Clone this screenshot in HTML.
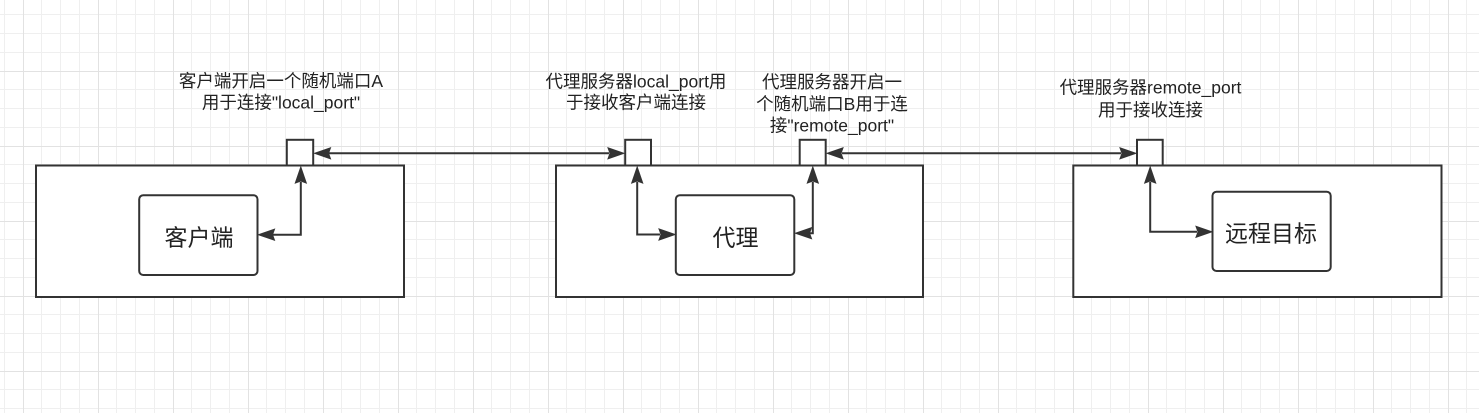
<!DOCTYPE html>
<html><head><meta charset="utf-8">
<style>
html,body{margin:0;padding:0;background:#fff;}
body{width:1479px;height:413px;overflow:hidden;}
svg{display:block;}
text{font-family:"Liberation Sans","Noto Sans CJK SC",sans-serif;fill:#222;}
</style></head>
<body>
<svg width="1479" height="413" viewBox="0 0 1479 413" xmlns="http://www.w3.org/2000/svg">
<rect x="0" y="0" width="1479" height="413" fill="#fff"/>
<g shape-rendering="crispEdges" stroke-width="1" fill="none">
<path stroke="#efefef" d="M4.5 0V413M41.5 0V413M60.5 0V413M79.5 0V413M116.5 0V413M135.5 0V413M154.5 0V413M191.5 0V413M210.5 0V413M229.5 0V413M266.5 0V413M285.5 0V413M304.5 0V413M341.5 0V413M360.5 0V413M379.5 0V413M416.5 0V413M435.5 0V413M454.5 0V413M491.5 0V413M510.5 0V413M529.5 0V413M566.5 0V413M585.5 0V413M604.5 0V413M641.5 0V413M660.5 0V413M679.5 0V413M716.5 0V413M735.5 0V413M754.5 0V413M791.5 0V413M810.5 0V413M829.5 0V413M866.5 0V413M885.5 0V413M904.5 0V413M941.5 0V413M960.5 0V413M979.5 0V413M1016.5 0V413M1035.5 0V413M1054.5 0V413M1091.5 0V413M1110.5 0V413M1129.5 0V413M1166.5 0V413M1185.5 0V413M1204.5 0V413M1241.5 0V413M1260.5 0V413M1279.5 0V413M1316.5 0V413M1335.5 0V413M1354.5 0V413M1391.5 0V413M1410.5 0V413M1429.5 0V413M1466.5 0V413
M0 14.5H1479M0 33.5H1479M0 52.5H1479M0 89.5H1479M0 108.5H1479M0 127.5H1479M0 164.5H1479M0 183.5H1479M0 202.5H1479M0 239.5H1479M0 258.5H1479M0 277.5H1479M0 314.5H1479M0 333.5H1479M0 352.5H1479M0 389.5H1479M0 408.5H1479"/>
<path stroke="#e2e2e2" d="M23.5 0V413M98.5 0V413M173.5 0V413M248.5 0V413M323.5 0V413M398.5 0V413M473.5 0V413M548.5 0V413M623.5 0V413M698.5 0V413M773.5 0V413M848.5 0V413M923.5 0V413M998.5 0V413M1073.5 0V413M1148.5 0V413M1223.5 0V413M1298.5 0V413M1373.5 0V413M1448.5 0V413
M0 71.5H1479M0 146.5H1479M0 221.5H1479M0 296.5H1479M0 371.5H1479"/>
</g>

<g stroke="#333" stroke-width="2" fill="#fff">
  <!-- outer boxes -->
  <rect x="36" y="165.5" width="368" height="131.5"/>
  <rect x="556" y="165.5" width="367" height="131.5"/>
  <rect x="1073.3" y="165.5" width="368.2" height="131.5"/>
  <!-- ports -->
  <rect x="286.8" y="139.8" width="26.4" height="25.7"/>
  <rect x="625.2" y="139.8" width="25.8" height="25.7"/>
  <rect x="799.7" y="139.8" width="26" height="25.7"/>
  <rect x="1137" y="139.8" width="25.7" height="25.7"/>
  <!-- inner boxes -->
  <rect x="139.2" y="195.2" width="118.3" height="79.8" rx="4" ry="4"/>
  <rect x="675.8" y="195.2" width="118.5" height="79.8" rx="4" ry="4"/>
  <rect x="1212.5" y="191.7" width="118.2" height="79.3" rx="4" ry="4"/>
</g>

<g stroke="#333" stroke-width="2" fill="none">
  <path d="M329 153.3H609"/>
  <path d="M842 153.3H1121"/>
  <path d="M300.8 182V234.7H273"/>
  <path d="M637.2 182V234.5H660"/>
  <path d="M812.8 182V233.2H810"/>
  <path d="M1150.2 182V231.8H1197"/>
</g>

<g fill="#333" stroke="#333" stroke-width="1" stroke-linejoin="miter">
  <!-- top horizontal arrows -->
  <polygon points="314.5,153.3 330.5,147.8 328.5,153.3 330.5,158.8"/>
  <polygon points="624,153.3 608,147.8 610,153.3 608,158.8"/>
  <polygon points="827,153.3 843,147.8 841,153.3 843,158.8"/>
  <polygon points="1136,153.3 1120,147.8 1122,153.3 1120,158.8"/>
  <!-- up arrows -->
  <polygon points="300.8,167 295.3,183 300.8,181 306.3,183"/>
  <polygon points="637.2,167 631.7,183 637.2,181 642.7,183"/>
  <polygon points="812.8,167 807.3,183 812.8,181 818.3,183"/>
  <polygon points="1150.2,167 1144.7,183 1150.2,181 1155.7,183"/>
  <!-- inner arrows -->
  <polygon points="258.5,234.7 274.5,229.2 272.5,234.7 274.5,240.2"/>
  <polygon points="675,234.5 659,229 661,234.5 659,240"/>
  <polygon points="795.5,233.2 811.5,227.7 809.5,233.2 811.5,238.7"/>
  <polygon points="1212,231.8 1196,226.3 1198,231.8 1196,237.3"/>
</g>

<g font-size="17.5" text-anchor="middle">
  <text x="281" y="87.2">客户端开启一个随机端口A</text>
  <text x="281" y="108.7">用于连接"local_port"</text>
  <text x="636" y="87.4">代理服务器local_port用</text>
  <text x="636" y="108.4">于接收客户端连接</text>
  <text x="832" y="88">代理服务器开启一</text>
  <text x="832" y="110">个随机端口B用于连</text>
  <text x="832" y="131.7">接"remote_port"</text>
  <text x="1150.5" y="93.6">代理服务器remote_port</text>
  <text x="1150.5" y="115.9">用于接收连接</text>
</g>
<g font-size="23" text-anchor="middle">
  <text x="199" y="245.4">客户端</text>
  <text x="735.5" y="245.4">代理</text>
  <text x="1271" y="241.4">远程目标</text>
</g>
</svg>
</body></html>
